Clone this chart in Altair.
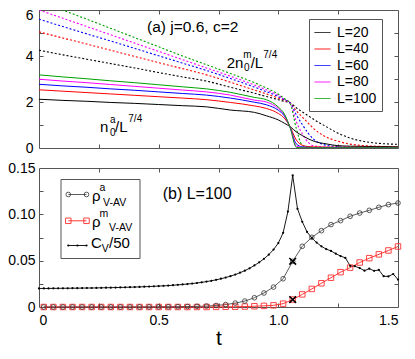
import altair as alt
import pandas as pd

FONT = "Liberation Sans"
FRAME = "#555555"

# ---------------- panel (a) ----------------
T_TOP = [0.0, 0.1, 0.2, 0.3, 0.4, 0.5, 0.6, 0.7, 0.8, 0.9, 0.95, 1.0, 1.025, 1.05,
         1.075, 1.1, 1.125, 1.15, 1.2, 1.25, 1.3, 1.35, 1.4, 1.45, 1.5]
L_NAMES = ["L=20", "L=40", "L=60", "L=80", "L=100"]
L_COLORS = ["#000000", "#ff0000", "#0000ff", "#ff00ff", "#00a000"]

# n0^a / L^(7/4)  (solid)
NA_20 = [2.12, 2.07, 2.03, 1.98, 1.94, 1.89, 1.84, 1.79, 1.65, 1.55, 1.40, 1.22, 1.08, 0.92,
         0.70, 0.54, 0.40, 0.29, 0.18, 0.10, 0.08, 0.07, 0.06, 0.06, 0.05]
NA_40 = [2.53, 2.47, 2.41, 2.35, 2.29, 2.23, 2.17, 2.10, 1.98, 1.83, 1.72, 1.50, 1.30, 0.90,
         0.35, 0.12, 0.06, 0.05, 0.04, 0.03, 0.03, 0.03, 0.03, 0.03, 0.03]
NA_60 = [2.77, 2.70, 2.64, 2.57, 2.51, 2.44, 2.37, 2.30, 2.17, 1.99, 1.88, 1.64, 1.40, 0.88,
         0.18, 0.05, 0.03, 0.02, 0.02, 0.02, 0.02, 0.02, 0.02, 0.02, 0.02]
NA_80 = [2.99, 2.91, 2.84, 2.76, 2.68, 2.60, 2.52, 2.44, 2.30, 2.08, 2.00, 1.72, 1.45, 0.87,
         0.08, 0.03, 0.02, 0.01, 0.01, 0.01, 0.01, 0.01, 0.01, 0.01, 0.01]
NA_100 = [3.18, 3.09, 3.01, 2.92, 2.84, 2.75, 2.66, 2.57, 2.42, 2.20, 2.10, 1.78, 1.48, 0.86,
          0.03, 0.01, 0.01, 0.01, 0.01, 0.01, 0.01, 0.01, 0.01, 0.01, 0.01]

# 2 n0^m / L^(7/4)  (dotted)
NM_20 = [4.25, 4.05, 3.86, 3.67, 3.48, 3.28, 3.09, 2.91, 2.64, 2.38, 2.24, 2.10, 2.03, 1.96,
         1.75, 1.57, 1.40, 1.23, 0.93, 0.64, 0.43, 0.30, 0.22, 0.18, 0.16]
NM_40 = [5.05, 4.78, 4.52, 4.25, 3.98, 3.71, 3.45, 3.18, 2.86, 2.52, 2.35, 2.17, 2.07, 1.96,
         1.62, 1.35, 1.08, 0.82, 0.48, 0.29, 0.17, 0.11, 0.08, 0.06, 0.05]
NM_60 = [5.60, 5.28, 4.96, 4.65, 4.33, 4.01, 3.69, 3.37, 3.02, 2.65, 2.45, 2.24, 2.10, 1.95,
         1.45, 1.02, 0.64, 0.36, 0.12, 0.06, 0.04, 0.03, 0.03, 0.03, 0.03]
NM_80 = [6.00, 5.64, 5.28, 4.92, 4.56, 4.20, 3.84, 3.48, 3.12, 2.74, 2.53, 2.29, 2.13, 1.94,
         1.15, 0.62, 0.24, 0.09, 0.04, 0.03, 0.02, 0.02, 0.02, 0.02, 0.02]
NM_100 = [6.38, 5.99, 5.60, 5.20, 4.80, 4.40, 4.00, 3.62, 3.24, 2.84, 2.61, 2.34, 2.15, 1.92,
          0.85, 0.12, 0.04, 0.02, 0.02, 0.02, 0.02, 0.02, 0.02, 0.02, 0.02]

# ---------------- panel (b) ----------------
T_RHO = [0.02, 0.06, 0.10, 0.14, 0.18, 0.22, 0.26, 0.30, 0.34, 0.38, 0.42, 0.46, 0.50,
         0.54, 0.58, 0.62, 0.66, 0.70, 0.74, 0.78, 0.82, 0.86, 0.90, 0.94, 0.98, 1.02,
         1.06, 1.10, 1.14, 1.18, 1.22, 1.26, 1.30, 1.34, 1.38, 1.42, 1.46, 1.50]
RHO_A = [0, 0, 0, 0, 0, 0, 0, 0, 0, 0,
         0.0001, 0.0001, 0.0002, 0.0002, 0.0003, 0.0005, 0.0007, 0.0010,
         0.0016, 0.0026, 0.0042, 0.0064, 0.0100, 0.0151, 0.0215, 0.0305,
         0.0493, 0.0655, 0.0752, 0.0824, 0.0889, 0.0932, 0.0979, 0.1014, 0.1043,
         0.1076, 0.1105, 0.1122]
RHO_M = [0, 0, 0, 0, 0, 0, 0, 0, 0, 0, 0, 0, 0, 0, 0, 0, 0, 0,
         0.0001, 0.0002, 0.0003, 0.0005, 0.0008, 0.0012, 0.0018, 0.0036,
         0.0080, 0.0136, 0.0195, 0.0256, 0.0316, 0.0376, 0.0425, 0.0480, 0.0527,
         0.0568, 0.0610, 0.0653]
T_C = 1.06

T_CV = [0.00, 0.02, 0.04, 0.06, 0.08, 0.10, 0.12, 0.14, 0.16, 0.18, 0.20, 0.22, 0.24,
        0.26, 0.28, 0.30, 0.32, 0.34, 0.36, 0.38, 0.40, 0.42, 0.44, 0.46, 0.48, 0.50,
        0.52, 0.54, 0.56, 0.58, 0.60, 0.62, 0.64, 0.66, 0.68, 0.70, 0.72, 0.74, 0.76,
        0.78, 0.80, 0.82, 0.84, 0.86, 0.88, 0.90, 0.92, 0.94, 0.96, 0.98, 1.00, 1.02,
        1.04, 1.06, 1.08, 1.10, 1.12, 1.14, 1.16, 1.18, 1.20, 1.22, 1.24, 1.26, 1.28,
        1.30, 1.32, 1.34, 1.36, 1.38, 1.40, 1.42, 1.44, 1.46, 1.48, 1.50]
CV_50 = [0.0200, 0.0200, 0.0200, 0.0201, 0.0201, 0.0202, 0.0202, 0.0203, 0.0203, 0.0204,
         0.0205, 0.0205, 0.0206, 0.0207, 0.0208, 0.0209, 0.0210, 0.0211, 0.0212, 0.0214,
         0.0215, 0.0217, 0.0219, 0.0221, 0.0223, 0.0226, 0.0228, 0.0231, 0.0235, 0.0239,
         0.0243, 0.0248, 0.0253, 0.0259, 0.0266, 0.0274, 0.0283, 0.0293, 0.0305, 0.0318,
         0.0333, 0.0350, 0.0370, 0.0392, 0.0418, 0.0448, 0.0482, 0.0520, 0.0565, 0.0620,
         0.0690, 0.0800, 0.1030, 0.1420, 0.1060, 0.0920, 0.0810, 0.0745, 0.0695, 0.0655,
         0.0625, 0.0605, 0.0575, 0.0550, 0.0530, 0.0445, 0.0440, 0.0420, 0.0392, 0.0414,
         0.0390, 0.0400, 0.0332, 0.0330, 0.0356, 0.0296]

# ---------------- data frames ----------------
rows_a, rows_m = [], []
for name, na, nm in zip(L_NAMES, [NA_20, NA_40, NA_60, NA_80, NA_100],
                        [NM_20, NM_40, NM_60, NM_80, NM_100]):
    for t, a, m in zip(T_TOP, na, nm):
        rows_a.append({"t": t, "v": a, "L": name})
        rows_m.append({"t": t, "v": m, "L": name})
df_a = pd.DataFrame(rows_a)
df_m = pd.DataFrame(rows_m)

df_rho = pd.DataFrame({"t": T_RHO, "ra": RHO_A, "rm": RHO_M})
df_cv = pd.DataFrame({"t": T_CV, "cv": CV_50})
ic = T_RHO.index(T_C)
df_cross = pd.DataFrame({"t": [T_C, T_C], "v": [RHO_A[ic], RHO_M[ic]]})

one = pd.DataFrame({"k": [0]})

xs = alt.Scale(domain=[0, 1.5], nice=False, zero=False)
ys_a = alt.Scale(domain=[0, 6], nice=False, zero=False)
ys_b = alt.Scale(domain=[0, 0.15], nice=False, zero=False)

XT = [0.25, 0.5, 0.75, 1.0, 1.25]
YT_A = [1, 2, 3, 4, 5]
YT_B = [0.025, 0.05, 0.075, 0.1, 0.125]


def tick_axis(orient, values):
    return alt.Axis(orient=orient, values=values, labels=False, ticks=True, tickSize=4,
                    tickColor=FRAME, tickWidth=1, domain=False, grid=False, offset=-4,
                    title=None)


def label_axis(orient, values, expr=None, title=None, pad=5, **extra):
    kw = dict(orient=orient, values=values, ticks=False, tickSize=0, domain=False,
              grid=False, labelFont=FONT, labelFontSize=14, labelColor="black",
              labelPadding=pad, title=title)
    if expr:
        kw["labelExpr"] = expr
    if title:
        kw.update(titleFont=FONT, titleFontSize=21, titleFontWeight="normal",
                  titleColor="black", titlePadding=0)
    kw.update(extra)
    return alt.Axis(**kw)


def txt(s, x, y, size=15, align="left"):
    return alt.Chart(one).mark_text(text=s, align=align, baseline="alphabetic",
                                    fontSize=size, font=FONT, color="black").encode(
        x=alt.value(x), y=alt.value(y))


LEG = alt.Legend(title=None, orient="none", legendX=270, legendY=9,
                 symbolType="stroke", symbolSize=256, symbolStrokeWidth=1,
                 symbolDash=[1, 0], labelFont=FONT, labelFontSize=14,
                 labelColor="black", strokeColor=FRAME, fillColor="white",
                 padding=5, rowPadding=0.5, labelOffset=6)
CSCALE = alt.Scale(domain=L_NAMES, range=L_COLORS)

solid = alt.Chart(df_a).mark_line(strokeWidth=1, clip=True, interpolate="monotone").encode(
    x=alt.X("t:Q", scale=xs, axis=None),
    y=alt.Y("v:Q", scale=ys_a,
            axis=label_axis("left", [0, 2, 4, 6], pad=6,
                            labelOffset={"condition": {"test": "datum.value == 6", "value": 5},
                                         "value": 0})),
    color=alt.Color("L:N", scale=CSCALE, legend=LEG),
)
dotted = alt.Chart(df_m).mark_line(strokeWidth=1.1, strokeDash=[2, 2], clip=True,
                                   interpolate="monotone").encode(
    x=alt.X("t:Q", scale=xs, axis=tick_axis("bottom", XT)),
    y=alt.Y("v:Q", scale=ys_a, axis=tick_axis("left", YT_A)),
    color=alt.Color("L:N", scale=CSCALE, legend=LEG),
)
ghost_a = alt.Chart(df_a).mark_line(opacity=0).encode(
    x=alt.X("t:Q", scale=xs, axis=tick_axis("top", XT)),
    y=alt.Y("v:Q", scale=ys_a, axis=tick_axis("right", YT_A)),
    detail="L:N",
)

top = alt.layer(
    ghost_a, dotted, solid,
    txt("(a) j=0.6, c=2", 108, 21.5, 15.5),
    txt("2n", 187.7, 57.5, 15), txt("m", 204.3, 47.7, 10), txt("0", 205, 61, 10),
    txt("/L", 211.7, 57.5, 15), txt("7/4", 224.3, 48.3, 10),
    txt("n", 61, 121.7, 15), txt("a", 71, 112.7, 10), txt("0", 71, 126, 10),
    txt("/L", 76, 121.7, 15), txt("7/4", 89.3, 112, 10),
).resolve_axis(x="independent", y="independent").properties(width=359, height=138)

# ---------------- bottom panel ----------------
cv_line = alt.Chart(df_cv).mark_line(color="black", strokeWidth=0.9).encode(
    x=alt.X("t:Q", scale=xs,
            axis=label_axis("bottom", [0, 0.5, 1.0, 1.5],
                            "datum.value == 0 ? '0' : format(datum.value, '.1f')",
                            title="t", pad=6)),
    y=alt.Y("cv:Q", scale=ys_b,
            axis=label_axis("left", [0, 0.05, 0.1, 0.15],
                            "datum.value == 0 ? '0' : format(datum.value, '.2f')", pad=4)),
)
cv_pts = alt.Chart(df_cv).mark_point(filled=True, size=5, color="black", opacity=1).encode(
    x=alt.X("t:Q", scale=xs, axis=None), y=alt.Y("cv:Q", scale=ys_b, axis=None))

ra_line = alt.Chart(df_rho).mark_line(color="#333333", strokeWidth=0.8).encode(
    x=alt.X("t:Q", scale=xs, axis=tick_axis("bottom", XT)),
    y=alt.Y("ra:Q", scale=ys_b, axis=tick_axis("left", YT_B)),
)
ra_pts = alt.Chart(df_rho).mark_point(shape="circle", filled=False, size=22, strokeWidth=0.8,
                                      color="#333333", opacity=1).encode(
    x=alt.X("t:Q", scale=xs, axis=None), y=alt.Y("ra:Q", scale=ys_b, axis=None))

rm_line = alt.Chart(df_rho).mark_line(color="#ff2020", strokeWidth=0.9).encode(
    x=alt.X("t:Q", scale=xs, axis=tick_axis("top", XT)),
    y=alt.Y("rm:Q", scale=ys_b, axis=tick_axis("right", YT_B)),
)
rm_pts = alt.Chart(df_rho).mark_point(shape="square", filled=False, size=30, strokeWidth=0.9,
                                      color="#ff3030", opacity=1).encode(
    x=alt.X("t:Q", scale=xs, axis=None), y=alt.Y("rm:Q", scale=ys_b, axis=None))

cross = alt.Chart(df_cross).mark_point(shape="M-1,-1L1,1M1,-1L-1,1", size=45, strokeWidth=1.6,
                                       color="black", opacity=1).encode(
    x=alt.X("t:Q", scale=xs, axis=None), y=alt.Y("v:Q", scale=ys_b, axis=None))

# legend of panel (b), drawn by hand (sub/superscripts)
box = alt.Chart(one).mark_rect(fill="white", stroke=FRAME, strokeWidth=1).encode(
    x=alt.value(22), x2=alt.value(101), y=alt.value(11.5), y2=alt.value(90.5))


def seg(y, color, w=0.9):
    return alt.Chart(one).mark_rule(color=color, strokeWidth=w).encode(
        x=alt.value(29.3), x2=alt.value(47.5), y=alt.value(y))


def sym(x, y, **kw):
    return alt.Chart(one).mark_point(opacity=1, **kw).encode(x=alt.value(x), y=alt.value(y))


leg = [
    box,
    seg(26.5, "#333333", 0.8),
    sym(29.3, 26.5, shape="circle", filled=False, size=22, strokeWidth=0.8, color="#333333"),
    sym(47.5, 26.5, shape="circle", filled=False, size=22, strokeWidth=0.8, color="#333333"),
    seg(52.8, "#ff2020"),
    sym(29.3, 52.8, shape="square", filled=False, size=30, strokeWidth=0.9, color="#ff3030"),
    sym(47.5, 52.8, shape="square", filled=False, size=30, strokeWidth=0.9, color="#ff3030"),
    seg(77.5, "black"),
    sym(29.3, 77.5, filled=True, size=5, color="black"),
    sym(38.4, 77.5, filled=True, size=5, color="black"),
    sym(47.5, 77.5, filled=True, size=5, color="black"),
    txt("\u03c1", 53, 33, 15), txt("a", 60.5, 23, 10.5), txt("V-AV", 64, 37.5, 10.5),
    txt("\u03c1", 53, 59, 15), txt("m", 60.5, 49, 10.5), txt("V-AV", 70, 63, 10.5),
    txt("C", 52, 80, 15), txt("V", 62.8, 83.5, 10.5), txt("/50", 70, 80, 15),
]

bottom = alt.layer(
    rm_line, ra_line, cv_line, rm_pts, ra_pts, cv_pts, cross,
    *leg,
    txt("(b)  L=100", 123.7, 31, 16),
).resolve_axis(x="independent", y="independent").properties(width=359, height=139)

chart = alt.vconcat(top, bottom, spacing=20, bounds="flush").configure_view(
    stroke=FRAME, strokeWidth=1
).properties(padding={"left": -1, "top": -1, "right": 0, "bottom": 0})

chart.save("out.html", embed_options={"renderer": "svg", "actions": False})
